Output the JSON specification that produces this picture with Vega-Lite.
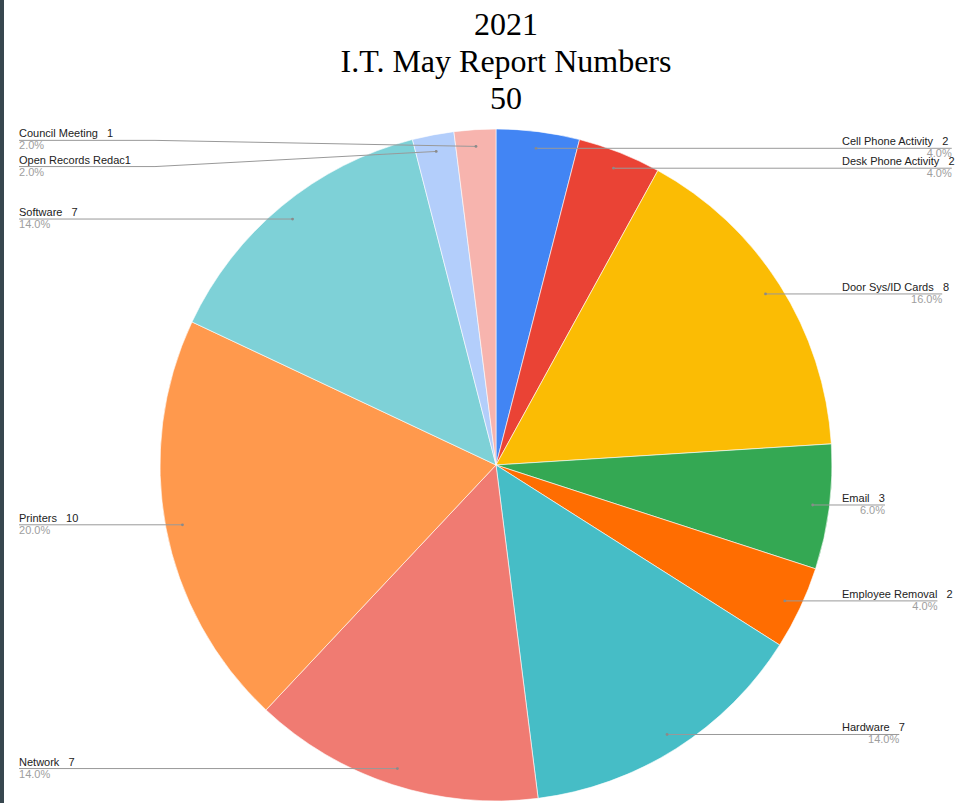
{
  "$schema": "https://vega.github.io/schema/vega-lite/v6.json",
  "width": 970,
  "height": 803,
  "autosize": {"type": "none"},
  "padding": {"left": 4, "top": 0, "right": 0, "bottom": 0},
  "background": "#37474f",
  "config": {"view": {"stroke": null, "fill": "white"}},
  "title": {
    "text": ["2021", "I.T. May Report Numbers", "50"],
    "font": "Liberation Serif",
    "fontSize": 32,
    "fontWeight": "normal",
    "color": "#000000",
    "lineHeight": 37,
    "anchor": "middle",
    "frame": "group",
    "baseline": "top",
    "offset": -116,
    "dx": 17
  },
  "data": {
    "values": [
      {"category": "Cell Phone Activity", "count": 2},
      {"category": "Desk Phone Activity", "count": 2},
      {"category": "Door Sys/ID Cards", "count": 8},
      {"category": "Email", "count": 3},
      {"category": "Employee Removal", "count": 2},
      {"category": "Hardware", "count": 7},
      {"category": "Network", "count": 7},
      {"category": "Printers", "count": 10},
      {"category": "Software", "count": 7},
      {"category": "Open Records Redaction", "count": 1},
      {"category": "Council Meeting", "count": 1}
    ]
  },
  "transform": [
    {"window": [{"op": "row_number", "as": "idx"}]},
    {"joinaggregate": [{"op": "sum", "field": "count", "as": "total"}]},
    {"window": [{"op": "sum", "field": "count", "as": "cum"}], "sort": [{"field": "idx", "order": "ascending"}], "frame": [null, 0]},
    {"calculate": "2*PI*(datum.cum - datum.count/2)/datum.total", "as": "ang"},
    {"calculate": "0.95*sin(datum.ang)", "as": "ax"},
    {"calculate": "0.95*cos(datum.ang)", "as": "ay"},
    {"calculate": "datum.ang < PI", "as": "right"},
    {"calculate": "datum.category == 'Council Meeting' ? 0.018 : (datum.category == 'Open Records Redaction' ? -0.045 : 0)", "as": "off"},
    {"calculate": "datum.ay + datum.off", "as": "ly"},
    {"calculate": "length(datum.category) > 19 ? slice(datum.category, 0, 18) + datum.count : datum.category + '\u00a0\u00a0\u00a0' + datum.count", "as": "labelText"},
    {"calculate": "format(datum.count/datum.total, '.1%')", "as": "pct"},
    {"calculate": "datum.right ? 1.0298 : -1.4196", "as": "sx"},
    {"calculate": "datum.right ? datum.sx + length(datum.labelText)*0.01420 : datum.sx", "as": "ex"},
    {"calculate": "datum.off != 0 ? -1.0149 : datum.ax", "as": "bx"}
  ],
  "layer": [
    {
      "mark": {"type": "arc", "radius": 336, "stroke": "white", "strokeWidth": 0.6},
      "encoding": {
        "x": {"datum": 0, "type": "quantitative", "scale": {"domain": [-1.4643, 1.4226], "nice": false, "zero": false}, "axis": null},
        "y": {"datum": 0, "type": "quantitative", "scale": {"domain": [-1.006, 1.3839], "nice": false, "zero": false}, "axis": null},
        "theta": {"field": "count", "type": "quantitative", "stack": true},
        "order": {"field": "idx", "type": "quantitative"},
        "color": {
          "field": "category",
          "type": "nominal",
          "scale": {
            "domain": ["Cell Phone Activity", "Desk Phone Activity", "Door Sys/ID Cards", "Email", "Employee Removal", "Hardware", "Network", "Printers", "Software", "Open Records Redaction", "Council Meeting"],
            "range": ["#4285F4", "#EA4335", "#FBBC04", "#34A853", "#FF6D01", "#46BDC6", "#F07B72", "#FF994D", "#7ED1D7", "#B3CEFB", "#F7B4AE"]
          },
          "legend": null
        }
      }
    },
    {
      "mark": {"type": "rule", "color": "#999999", "strokeWidth": 1},
      "encoding": {
        "x": {"field": "ex", "type": "quantitative"},
        "x2": {"field": "bx"},
        "y": {"field": "ly", "type": "quantitative"}
      }
    },
    {
      "transform": [{"filter": "datum.off != 0"}],
      "mark": {"type": "rule", "color": "#999999", "strokeWidth": 1},
      "encoding": {
        "x": {"field": "bx", "type": "quantitative"},
        "y": {"field": "ly", "type": "quantitative"},
        "x2": {"field": "ax"},
        "y2": {"field": "ay"}
      }
    },
    {
      "mark": {"type": "point", "filled": true, "size": 8, "color": "#8a8a8a", "opacity": 1},
      "encoding": {
        "x": {"field": "ax", "type": "quantitative"},
        "y": {"field": "ay", "type": "quantitative"}
      }
    },
    {
      "mark": {"type": "text", "align": "left", "baseline": "bottom", "dy": -1, "font": "Liberation Sans", "fontSize": 11, "color": "#222222"},
      "encoding": {
        "x": {"field": "sx", "type": "quantitative"},
        "y": {"field": "ly", "type": "quantitative"},
        "text": {"field": "labelText"}
      }
    },
    {
      "transform": [{"filter": "!datum.right"}],
      "mark": {"type": "text", "align": "left", "baseline": "top", "dy": 0, "font": "Liberation Sans", "fontSize": 11, "color": "#9e9e9e"},
      "encoding": {
        "x": {"field": "sx", "type": "quantitative"},
        "y": {"field": "ly", "type": "quantitative"},
        "text": {"field": "pct"}
      }
    },
    {
      "transform": [{"filter": "datum.right"}],
      "mark": {"type": "text", "align": "right", "baseline": "top", "dy": 0, "font": "Liberation Sans", "fontSize": 11, "color": "#9e9e9e"},
      "encoding": {
        "x": {"field": "ex", "type": "quantitative"},
        "y": {"field": "ly", "type": "quantitative"},
        "text": {"field": "pct"}
      }
    }
  ]
}
